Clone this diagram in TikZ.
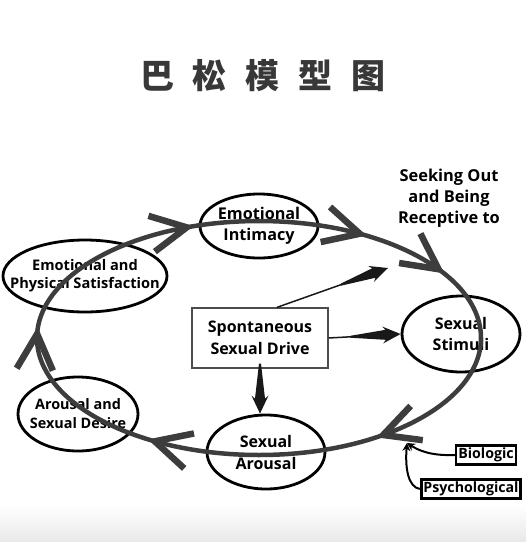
\documentclass[tikz,border=0pt]{standalone}
\usepackage{fontspec}
\setmainfont{Open Sans}
\newfontfamily\cjk{Noto Sans CJK SC}
\usetikzlibrary{shapes.geometric,arrows.meta,calc}
\definecolor{cyc}{HTML}{3D3D3D}
\newcommand\drivearrow[2]{%
  \draw[line width=1.5pt, draw=black!90] (#1) -- ($(#2)!30pt!(#1)$);
  \coordinate (wS) at ($(#2)!50pt!(#1)$);
  \coordinate (wM) at ($(#2)!15pt!(#1)$);
  \coordinate (wN) at ($(#2)!18pt!(#1)$);
  \fill[black!90] ($(wS)!1pt!90:(#2)$) -- ($(wM)!5pt!90:(#2)$) -- ($(wN)!8.5pt!90:(#2)$) -- (#2)
     -- ($(wN)!8.5pt!-90:(#2)$) -- ($(wM)!5pt!-90:(#2)$) -- ($(wS)!1pt!-90:(#2)$) -- cycle;
}
\begin{document}
\begin{tikzpicture}[x=1pt,y=-1pt,
  oval/.style={ellipse, draw=black, line width=2.8pt, inner sep=0pt},
  ovaltext/.style={align=center, font=\bfseries\fontsize{#1}{21}\selectfont},
  cycline/.style={draw=cyc, line width=4.5pt},
  chev/.style={draw=cyc, line width=6.5pt, line join=miter},
  smallarr/.style={draw=black, line width=2pt, -{Stealth[length=8pt,width=8pt]}},
  tagbox/.style={draw=black, line width=2.6pt, inner sep=2.2pt, font=\bfseries\fontsize{14.2}{16}\selectfont}
]
\useasboundingbox (0,0) rectangle (526,542);
\shade[top color=white, bottom color=black!9] (0,505) rectangle (526,542);

\node[font=\cjk\bfseries\fontsize{34}{34}\selectfont, text=black!78] (title) at (263,76)
  {巴\hspace{19pt}松\hspace{19pt}模\hspace{19pt}型\hspace{19pt}图};

\node[oval, minimum width=118pt, minimum height=64pt,
  label={[ovaltext=16.2]center:Emotional\\Intimacy}] (ei) at (259,226) {};
\node[oval, minimum width=164pt, minimum height=72pt,
  label={[ovaltext=14.6, font=\bfseries\fontsize{14.6}{18}\selectfont]center:Emotional and\\Physical Satisfaction}] (eps) at (85,276) {};
\node[oval, minimum width=118pt, minimum height=76pt,
  label={[ovaltext=16]center:Sexual\\Stimuli}] (ss) at (461,334) {};
\node[oval, minimum width=118pt, minimum height=74pt,
  label={[ovaltext=16, font=\bfseries\fontsize{16}{22}\selectfont]center:Sexual\\Arousal}] (sa) at (266,452) {};
\node[oval, minimum width=120pt, minimum height=74pt,
  label={[ovaltext=14.4, font=\bfseries\fontsize{14.4}{19}\selectfont]center:Arousal and\\Sexual Desire}] (asd) at (78,414) {};
\node[draw=black!70, line width=1.3pt, minimum width=136pt, minimum height=60pt, align=center,
  font=\bfseries\fontsize{16}{22}\selectfont] (ssd) at (260,338) {Spontaneous\\Sexual Drive};
\node[align=center, font=\bfseries\fontsize{16.4}{21}\selectfont] (seek) at (449,198) {Seeking Out\\and Being\\Receptive to};
\node[tagbox] (bio) at (486,455) {Biologic};
\node[tagbox] (psy) at (471,489) {Psychological};

\coordinate (up) at (388,268);
\coordinate (inp) at (407,443);

% main cycle
\draw[cycline] (259,338) ellipse [x radius=222, y radius=117];
\foreach \t in {109,63,36,304,242,178} {
  \pgfmathsetmacro\px{259+222*cos(\t)}
  \pgfmathsetmacro\py{338-117*sin(\t)}
  \pgfmathsetmacro\ba{atan2(-117*cos(\t), -222*sin(\t))}
  \draw[chev] (\px,\py) ++(\ba+27:40) -- (\px,\py) -- ++(\ba-27:40);
}

% spontaneous drive arrows
\coordinate (ssdtop) at ([xshift=17pt]ssd.north);
\coordinate (satop) at (ssd.south |- sa.north);
\drivearrow{ssd.east}{ss.west}
\drivearrow{ssdtop}{up}
\drivearrow{ssd.south}{satop}

% inputs
\draw[smallarr] (bio.west) .. controls (430,456) and (418,450) .. (inp);
\draw[smallarr] (psy.west) .. controls (408,487) and (405,468) .. (inp);
\end{tikzpicture}
\end{document}
